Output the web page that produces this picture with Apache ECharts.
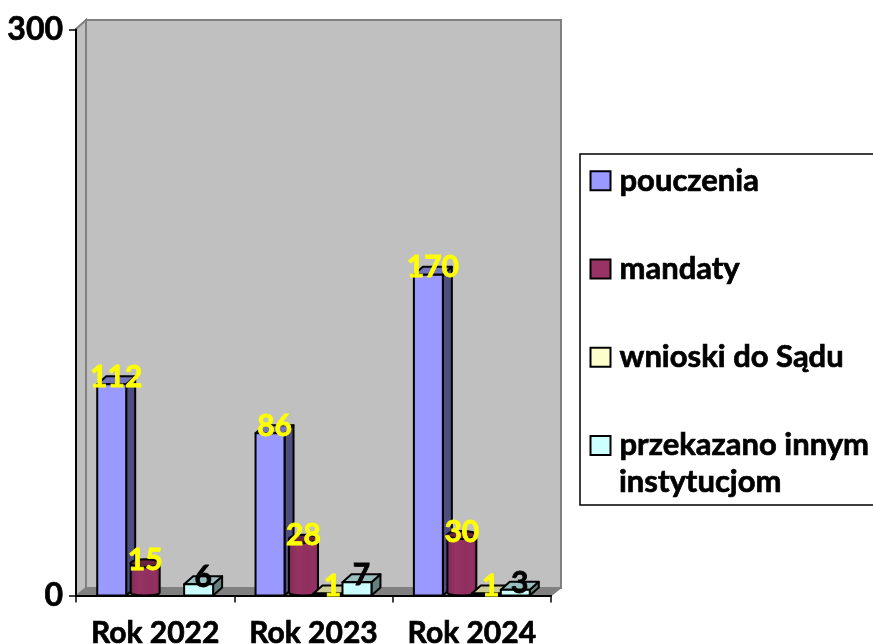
<!DOCTYPE html>
<html>
<head>
<meta charset="utf-8">
<title>Rok 2022-2024</title>
<script src="https://cdn.jsdelivr.net/npm/echarts@6/dist/echarts.min.js"></script>
<style>
  html, body { margin: 0; padding: 0; background: #fff; }
  #chart { width: 873px; height: 644px; }
</style>
</head>
<body>
<div id="chart"></div>
<script>
var years = ['Rok 2022', 'Rok 2023', 'Rok 2024'];
var yTicks = [0, 300];
var pouczenia = [112, 86, 170];
var mandaty = [15, 28, 30];
var wnioski = [0, 1, 1];
var przekazano = [6, 7, 3];

var FONT = 'Lato';
var DX = 9, DY = 8; // glebokosc 3D

function toData(arr) {
  return arr.map(function (v, i) { return [i, v]; });
}

function valueLabel(v, x, y, color) {
  return {
    type: 'text', z2: 100,
    style: { text: String(v), x: x, y: y + 1, align: 'center', verticalAlign: 'middle', fill: color, stroke: color, lineWidth: 0.8, font: 'bold 30px ' + FONT }
  };
}

// slupek prostopadloscian
function boxItem(idx, front, top, side, labelColor) {
  return function (params, api) {
    var v = api.value(1);
    if (!v) return { type: 'group', children: [] };
    var c = api.coord([api.value(0), v]);
    var base = api.coord([api.value(0), 0]);
    var w = api.size([1, 0])[0] * 0.183;
    var x = c[0] + (idx - 2) * w;
    var line = { stroke: '#000', lineWidth: 2, lineJoin: 'round' };
    return {
      type: 'group',
      children: [
        { type: 'polygon', shape: { points: [[x + w, c[1]], [x + w + DX, c[1] - DY], [x + w + DX, base[1] - DY], [x + w, base[1]]] }, style: Object.assign({ fill: side }, line) },
        { type: 'polygon', shape: { points: [[x, c[1]], [x + DX, c[1] - DY], [x + w + DX, c[1] - DY], [x + w, c[1]]] }, style: Object.assign({ fill: top }, line) },
        { type: 'rect', shape: { x: x, y: c[1], width: w, height: base[1] - c[1] }, style: Object.assign({ fill: front }, line) },
        valueLabel(v, x + w / 2 + DX / 2, c[1] - DY, labelColor)
      ]
    };
  };
}

// mandaty - walec
function cylinderItem(idx, labelColor) {
  return function (params, api) {
    var v = api.value(1);
    var c = api.coord([api.value(0), v]);
    var base = api.coord([api.value(0), 0]);
    var w = api.size([1, 0])[0] * 0.183;
    var x = c[0] + (idx - 2) * w + DX / 2;
    var ry = 4, rx = w / 2, cx = x + rx;
    var topY = c[1] - DY / 2, botY = base[1] - DY / 2;
    var k = 0.5523;
    var body = 'M' + x + ' ' + topY + 'L' + x + ' ' + botY +
      'C' + x + ' ' + (botY + ry * k * 1.8) + ' ' + (x + w) + ' ' + (botY + ry * k * 1.8) + ' ' + (x + w) + ' ' + botY +
      'L' + (x + w) + ' ' + topY + 'Z';
    return {
      type: 'group',
      children: [
        {
          type: 'path', shape: { pathData: body, x: x, y: topY, width: w, height: botY + ry - topY, layout: 'cover' },
          style: {
            stroke: '#000', lineWidth: 2,
            fill: new echarts.graphic.LinearGradient(0, 0, 1, 0, [
              { offset: 0, color: '#7d2a55' }, { offset: 0.3, color: '#973364' },
              { offset: 0.6, color: '#8f305f' }, { offset: 0.85, color: '#933162' }, { offset: 1, color: '#7a2852' }
            ])
          }
        },
        { type: 'ellipse', shape: { cx: cx, cy: topY, rx: rx, ry: ry }, style: { fill: '#66223f', stroke: '#000', lineWidth: 2 } },
        valueLabel(v, cx, c[1] - DY, labelColor)
      ]
    };
  };
}

var chart = echarts.init(document.getElementById('chart'), null, { renderer: 'canvas' });

chart.setOption({
  animation: false,
  backgroundColor: '#fff',
  grid: { left: 76, top: 29.5, width: 475, height: 566, outerBoundsMode: 'none' },
  xAxis: {
    type: 'category',
    data: years,
    axisLine: { lineStyle: { color: '#000', width: 2 } },
    axisTick: { show: true, length: 7, lineStyle: { color: '#000', width: 1.5 } },
    axisLabel: { interval: 0, hideOverlap: false, color: '#000', fontFamily: FONT, fontWeight: 'bold', fontSize: 30, margin: 23, textBorderColor: '#000', textBorderWidth: 0.7 }
  },
  yAxis: {
    type: 'value',
    min: yTicks[0],
    max: yTicks[1],
    interval: yTicks[1],
    axisLine: { show: true, lineStyle: { color: '#000', width: 2 } },
    axisTick: { show: true, length: 7, lineStyle: { color: '#000', width: 1.5 } },
    splitLine: { show: false },
    axisLabel: { color: '#000', fontFamily: FONT, fontWeight: 'bold', fontSize: 32, margin: 13, textBorderColor: '#000', textBorderWidth: 0.7 }
  },
  legend: {
    orient: 'vertical',
    left: 589.5,
    top: 165,
    padding: 0,
    itemWidth: 20,
    itemHeight: 19,
    itemGap: 56.5,
    icon: 'rect',
    selectedMode: false,
    data: ['pouczenia', 'mandaty', 'wnioski do Sądu', 'przekazano innym instytucjom'],
    formatter: function (name) {
      return name.replace(' instytucjom', '');
    },
    textStyle: { color: '#000', fontFamily: FONT, fontWeight: 'bold', fontSize: 31, lineHeight: 30, padding: [0, 0, 0, 4], textBorderColor: '#000', textBorderWidth: 0.7 }
  },
  graphic: [
    { type: 'polygon', z: -10, shape: { points: [[76, 29], [86, 20], [86, 588], [76, 596]] }, style: { fill: '#c0c0c0', stroke: '#808080', lineWidth: 2 } },
    { type: 'rect', z: -10, shape: { x: 86, y: 20, width: 475, height: 568 }, style: { fill: '#c0c0c0', stroke: '#808080', lineWidth: 2 } },
    { type: 'polygon', z: -9, shape: { points: [[76, 596], [86, 588], [561, 588], [551, 596]] }, style: { fill: '#808080', stroke: '#808080', lineWidth: 1 } },
    { type: 'rect', z: -10, shape: { x: 580, y: 154, width: 310, height: 351 }, style: { fill: '#fff', stroke: '#000', lineWidth: 1.5 } },
    { type: 'text', z: 10, style: { text: 'instytucjom', x: 619, y: 482, verticalAlign: 'middle', fill: '#000', stroke: '#000', lineWidth: 0.7, font: 'bold 31px ' + FONT } }
  ],
  series: [
    { name: 'pouczenia', type: 'custom', data: toData(pouczenia), encode: { x: 0, y: 1 }, itemStyle: { color: '#9999ff', borderColor: '#000', borderWidth: 1.5 }, renderItem: boxItem(0, '#9999ff', '#7373bf', '#4d4d80', '#ffff00') },
    { name: 'mandaty', type: 'custom', data: toData(mandaty), encode: { x: 0, y: 1 }, itemStyle: { color: '#993366', borderColor: '#000', borderWidth: 1.5 }, renderItem: cylinderItem(1, '#ffff00') },
    { name: 'wnioski do Sądu', type: 'custom', data: toData(wnioski), encode: { x: 0, y: 1 }, itemStyle: { color: '#ffffcc', borderColor: '#000', borderWidth: 1.5 }, renderItem: boxItem(2, '#ffffcc', '#cccc99', '#808066', '#ffff00') },
    { name: 'przekazano innym instytucjom', type: 'custom', data: toData(przekazano), encode: { x: 0, y: 1 }, itemStyle: { color: '#ccffff', borderColor: '#000', borderWidth: 1.5 }, renderItem: boxItem(3, '#ccffff', '#99bfbf', '#668080', '#000') }
  ]
});
</script>
</body>
</html>
